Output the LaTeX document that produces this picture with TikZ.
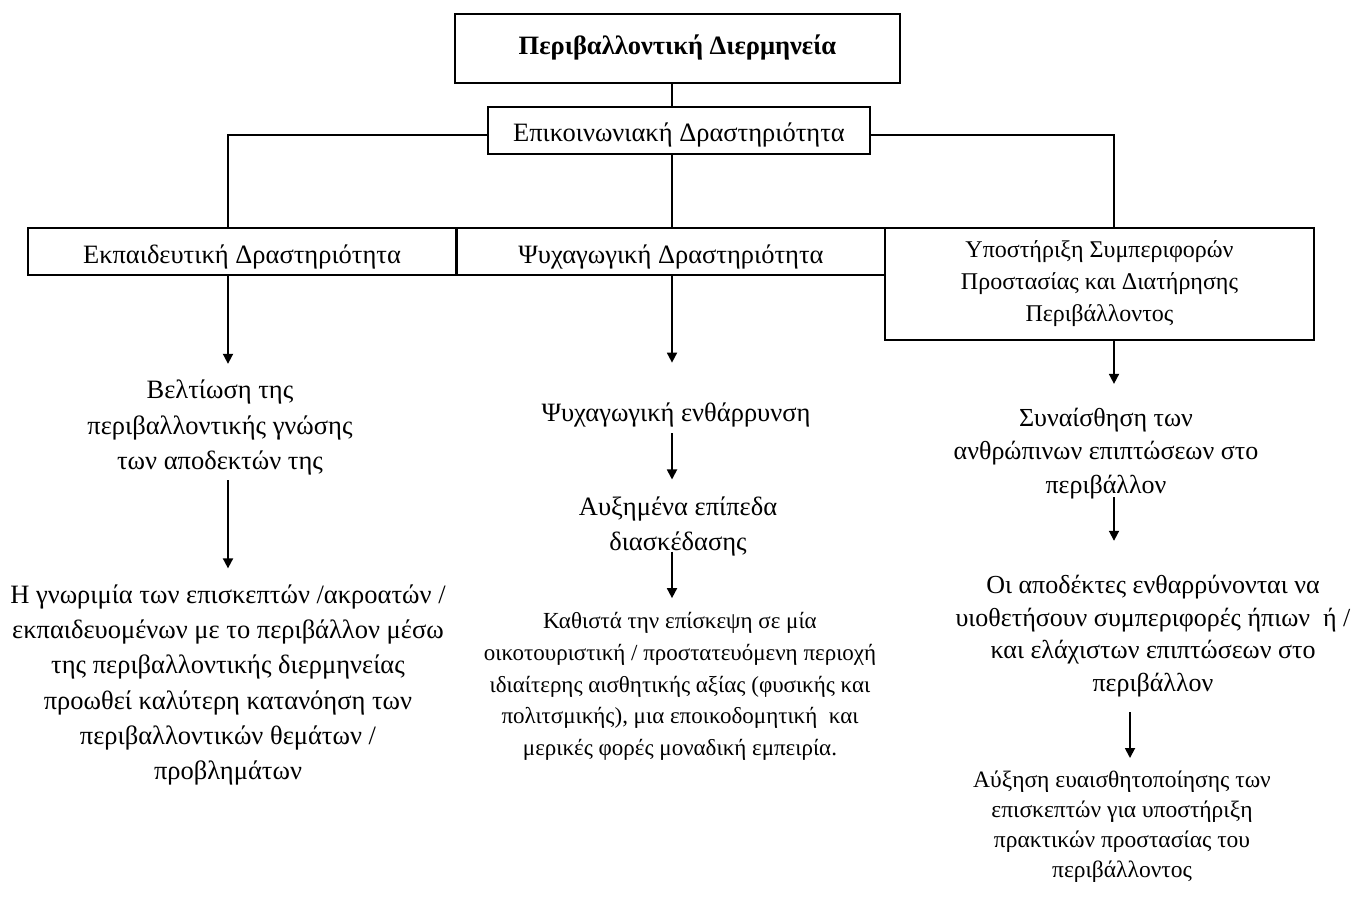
\documentclass[tikz,border=0pt]{standalone}
\usepackage{fontspec}
\setmainfont{Liberation Serif}
\usetikzlibrary{arrows.meta,calc}

\begin{document}
\begin{tikzpicture}[x=1pt,y=-1pt,
  box/.style={draw,line width=1.5pt,fill=white,inner sep=0pt,align=center},
  txt/.style={inner sep=0pt,align=center},
  link/.style={line width=1.8pt},
  arr/.style={line width=1.8pt,-{Triangle[length=10pt,width=10pt]}},
  main/.style={font=\fontsize{26.5}{35.3}\selectfont},
  para/.style={font=\fontsize{23}{31.8}\selectfont},
  note/.style={font=\fontsize{23.5}{30}\selectfont},
  lift/.style={text height=#1,text depth=6pt}
]
\useasboundingbox (0,0) rectangle (1357,910);

% column axes
\coordinate (mid) at (672,0);
\coordinate (jl) at (228,135);
\coordinate (jr) at (1114,135);
\coordinate (rx) at (1130,0);

% boxes
\node[box,lift=18pt,minimum width=445pt,minimum height=69pt,
      font=\fontsize{26.5}{30}\selectfont\bfseries] (top) at (677.5,48.5)
  {Περιβαλλοντική Διερμηνεία};
\node[box,main,lift=27pt,minimum width=382pt,minimum height=47pt] (comm) at (679,130.5)
  {Επικοινωνιακή Δραστηριότητα};
\node[box,main,lift=29pt,minimum width=428pt,minimum height=47pt] (edu) at (242,251.5)
  {Εκπαιδευτική Δραστηριότητα};
\node[box,main,lift=29pt,minimum width=428pt,minimum height=47pt] (rec) at (671,251.5)
  {Ψυχαγωγική Δραστηριότητα};
\node[box,font=\fontsize{24}{32}\selectfont,minimum width=429pt,minimum height=112pt] (sup) at (1099.5,284)
  {Υποστήριξη Συμπεριφορών\\Προστασίας και Διατήρησης\\Περιβάλλοντος};

% free texts
\node[txt,main] (t1) at (220,427.5)
  {Βελτίωση της\\περιβαλλοντικής γνώσης\\των αποδεκτών της};
\node[txt,main] (t2) at (228,685)
  {Η γνωριμία των επισκεπτών /ακροατών /\\εκπαιδευομένων με το περιβάλλον μέσω\\της περιβαλλοντικής διερμηνείας\\προωθεί καλύτερη κατανόηση των\\περιβαλλοντικών θεμάτων /\\προβλημάτων};
\node[txt,main] (m1) at (676,415) {Ψυχαγωγική ενθάρρυνση};
\node[txt,main] (m2) at (678,526.5) {Αυξημένα επίπεδα\\διασκέδασης};
\node[txt,para] (m3) at (680,686.5)
  {Καθιστά την επίσκεψη σε μία\\οικοτουριστική / προστατευόμενη περιοχή\\ιδιαίτερης αισθητικής αξίας (φυσικής και\\πολιτσμικής), μια εποικοδομητική\ \ και\\μερικές φορές μοναδική εμπειρία.};
\node[txt,font=\fontsize{26}{33.5}\selectfont] (r1) at (1106,453.5)
  {Συναίσθηση των\\ανθρώπινων επιπτώσεων στο\\περιβάλλον};
\node[txt,font=\fontsize{26}{32.7}\selectfont] (r2) at (1153,636)
  {Οι αποδέκτες ενθαρρύνονται να\\υιοθετήσουν συμπεριφορές ήπιων\ \ ή /\\και ελάχιστων επιπτώσεων στο\\περιβάλλον};
\node[txt,note] (r3) at (1122,827)
  {Αύξηση ευαισθητοποίησης των\\επισκεπτών για υποστήριξη\\πρακτικών προστασίας του\\περιβάλλοντος};

% tree connectors
\draw[link] (top.south -| mid) -- (comm.north -| mid);
\draw[link] (comm.south -| mid) -- (rec.north -| mid);
\draw[link] (comm.west |- jl) -- (jl) -- (jl |- edu.north);
\draw[link] (comm.east |- jr) -- (jr) -- (jr |- sup.north);

% left column
\draw[arr] (edu.south -| jl) -- ($(t1.north -| jl)+(0,-16)$);
\draw[arr] ($(t1.south -| jl)+(0,5)$) -- ($(t2.north -| jl)+(0,-16)$);
% middle column
\draw[arr] (rec.south -| mid) -- ($(m1.north -| mid)+(0,-40)$);
\draw[arr] ($(m1.south -| mid)+(0,6)$) -- ($(m2.north -| mid)+(0,-17)$);
\draw[arr] ($(m2.south -| mid)+(0,-5)$) -- ($(m3.north -| mid)+(0,-14)$);
% right column
\draw[arr] (sup.south -| jr) -- ($(r1.north -| jr)+(0,-24)$);
\draw[arr] ($(r1.south -| jr)+(0,-2)$) -- ($(r2.north -| jr)+(0,-34)$);
\draw[arr] ($(r2.south -| rx)+(0,15)$) -- ($(r3.north -| rx)+(0,-13)$);
\end{tikzpicture}
\end{document}
